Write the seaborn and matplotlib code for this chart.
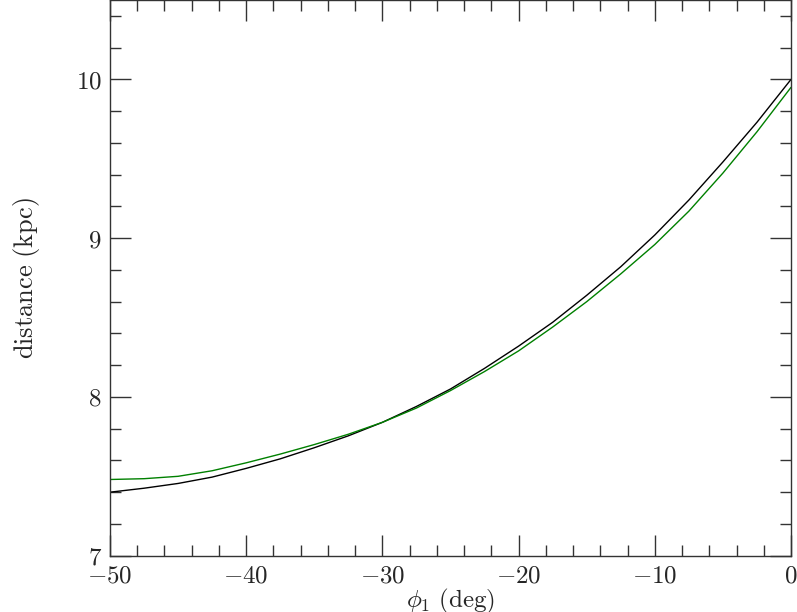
import numpy as np
import pandas as pd
import matplotlib
matplotlib.use("Agg")
import matplotlib.pyplot as plt
import seaborn as sns
from matplotlib.ticker import MultipleLocator, FuncFormatter

# valores
phi1 = [-50, -47.5, -45, -42.5, -40, -37.5, -35, -32.5, -30, -27.5, -25,
        -22.5, -20, -17.5, -15, -12.5, -10, -7.5, -5, -2.5, 0]
dist_black = [7.40, 7.425, 7.455, 7.495, 7.55, 7.61, 7.68, 7.755, 7.84, 7.94, 8.05,
              8.18, 8.32, 8.47, 8.64, 8.82, 9.02, 9.24, 9.48, 9.73, 10.00]
dist_green = [7.48, 7.485, 7.50, 7.535, 7.585, 7.64, 7.70, 7.765, 7.84, 7.93, 8.04,
              8.16, 8.29, 8.44, 8.60, 8.775, 8.96, 9.17, 9.41, 9.67, 9.95]

df = pd.DataFrame({"phi1": phi1, "black": dist_black, "green": dist_green})

sns.set_theme(style="ticks")
plt.rcParams["mathtext.fontset"] = "cm"
plt.rcParams["font.family"] = ["DejaVu Serif"]

fig = plt.figure(figsize=(7.97, 6.12), dpi=100)
ax = fig.add_axes([0.138, 0.092, 0.8545, 0.908])

sns.lineplot(data=df, x="phi1", y="black", color="black", lw=1.0, ax=ax)
sns.lineplot(data=df, x="phi1", y="green", color="#008000", lw=1.0, ax=ax)

ax.set_xlim(-50, 0)
ax.set_ylim(7, 10.5)

ax.xaxis.set_major_locator(MultipleLocator(10))
ax.xaxis.set_minor_locator(MultipleLocator(2))
ax.yaxis.set_major_locator(MultipleLocator(1))
ax.yaxis.set_minor_locator(MultipleLocator(0.2))

fmt = FuncFormatter(lambda v, p: r"$%d$" % round(v))
ax.xaxis.set_major_formatter(fmt)
ax.yaxis.set_major_formatter(fmt)

ax.tick_params(which="both", direction="in", top=True, right=True,
               color="#333333", width=1.0, labelsize=18)
ax.tick_params(which="major", length=15, pad=6)
ax.tick_params(which="minor", length=8)

for s in ax.spines.values():
    s.set_color("#333333")
    s.set_linewidth(1.0)

ax.set_xlabel(r"$\phi_1\ \mathrm{(deg)}$", fontsize=18, labelpad=0)
ax.set_ylabel(r"$\mathrm{distance\ (kpc)}$", fontsize=19, labelpad=24)

fig.savefig("out.png", dpi=100)
